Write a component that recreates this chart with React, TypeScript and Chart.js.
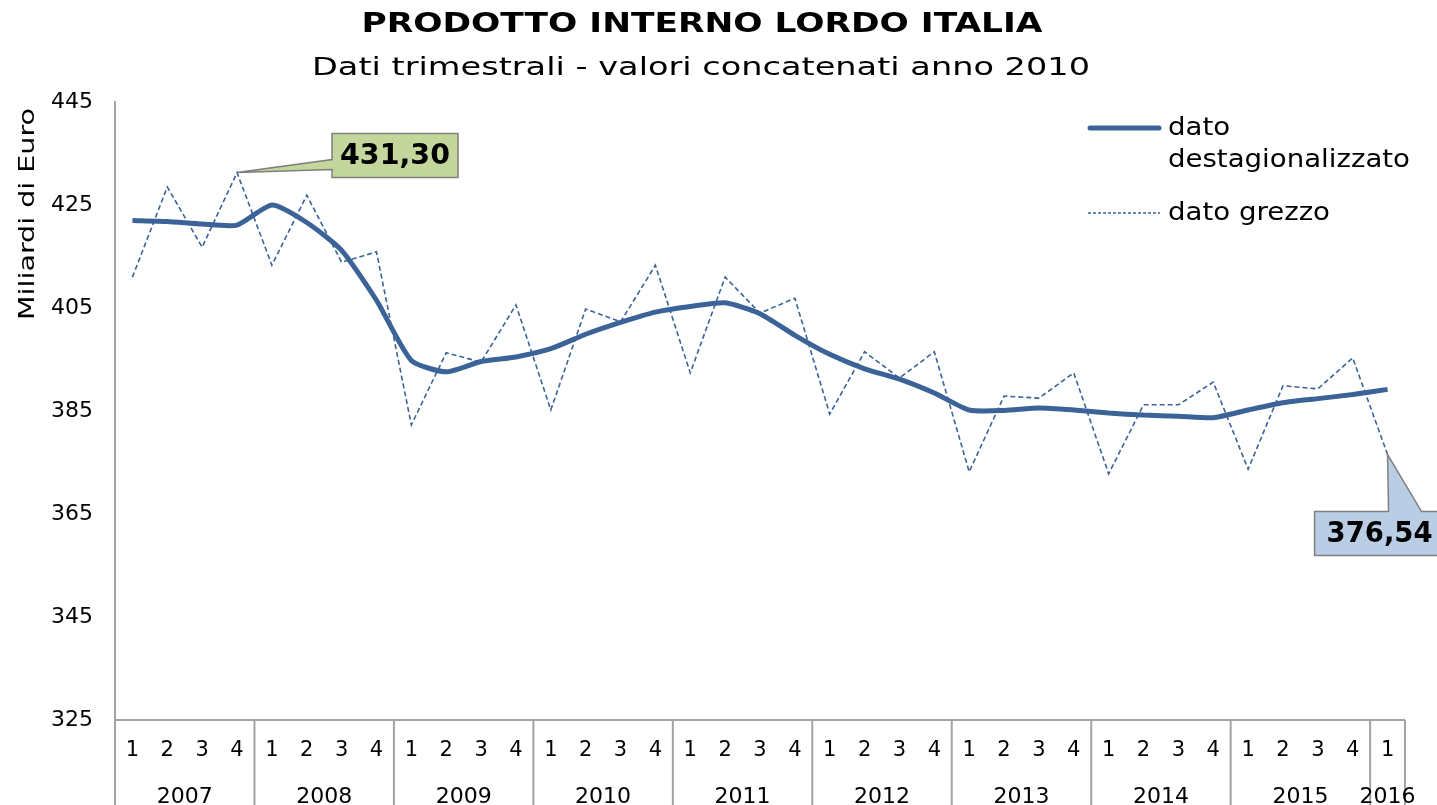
import React, { useEffect, useRef } from 'react';
import { Chart, registerables } from 'chart.js';

Chart.register(...registerables);

const FONT = "'DejaVu Sans', sans-serif";

const titleText = 'PRODOTTO INTERNO LORDO ITALIA';
const subtitleText = 'Dati trimestrali - valori concatenati anno 2010';
const yAxisTitle = 'Miliardi di Euro';
const legendSolid = ['dato', 'destagionalizzato'];
const legendDashed = 'dato grezzo';

const years = ['2007', '2008', '2009', '2010', '2011', '2012', '2013', '2014', '2015', '2016'];
const quartersPerYear = [4, 4, 4, 4, 4, 4, 4, 4, 4, 1];
const quarterLabels = [
  '1', '2', '3', '4', '1', '2', '3', '4', '1', '2', '3', '4', '1', '2', '3', '4',
  '1', '2', '3', '4', '1', '2', '3', '4', '1', '2', '3', '4', '1', '2', '3', '4',
  '1', '2', '3', '4', '1',
];

const destagionalizzato = [
  422.0, 421.8, 421.3, 421.1,
  425.0, 421.6, 416.2, 406.5,
  394.8, 392.6, 394.6, 395.5,
  397.1, 399.9, 402.2, 404.2,
  405.3, 406.0, 403.9, 399.7,
  396.0, 393.2, 391.2, 388.5,
  385.2, 385.1, 385.6, 385.2,
  384.6, 384.2, 384.0, 383.7,
  385.2, 386.6, 387.4, 388.2,
  389.2,
];

const grezzo = [
  411.0, 428.5, 416.8, 431.3,
  413.3, 426.9, 413.9, 415.9,
  382.3, 396.3, 394.5, 405.6,
  385.2, 404.8, 402.3, 413.3,
  392.4, 411.0, 404.0, 406.9,
  384.4, 396.5, 391.4, 396.5,
  373.2, 387.9, 387.5, 392.4,
  372.8, 386.2, 386.2, 390.6,
  373.7, 389.9, 389.3, 395.3,
  376.54,
];

const yMin = 325;
const yMax = 445;
const yStep = 20;

const LINE_COLOR = '#3b6397';
const AXIS_COLOR = '#a3a3a3';

const formatIt = (v: number) => v.toFixed(2).replace('.', ',');

function drawFit(
  ctx: CanvasRenderingContext2D,
  text: string,
  x: number,
  y: number,
  font: string,
  sx: number,
  align: CanvasTextAlign,
) {
  ctx.save();
  ctx.font = font;
  ctx.translate(x, y);
  ctx.scale(sx, 1);
  ctx.textAlign = align;
  ctx.textBaseline = 'middle';
  ctx.fillText(text, 0, 0);
  ctx.restore();
}

function stretchFor(ctx: CanvasRenderingContext2D, text: string, font: string, width: number) {
  ctx.save();
  ctx.font = font;
  const w = ctx.measureText(text).width;
  ctx.restore();
  return w > 0 ? width / w : 1;
}

const overlayPlugin = {
  id: 'overlay',
  afterDraw(chart: any) {
    const ctx = chart.ctx as CanvasRenderingContext2D;
    const xs = chart.scales.x;
    const ys = chart.scales.y;
    const area = chart.chartArea;
    const H = chart.height;
    ctx.save();
    ctx.fillStyle = '#000';

    // Titles
    const fTitle = `bold 26px ${FONT}`;
    drawFit(ctx, titleText, 702, 25, fTitle, stretchFor(ctx, titleText, fTitle, 681), 'center');
    const fSub = `25px ${FONT}`;
    drawFit(ctx, subtitleText, 701, 68, fSub, stretchFor(ctx, subtitleText, fSub, 778), 'center');

    // Y axis title
    ctx.save();
    ctx.translate(28, 214);
    ctx.rotate(-Math.PI / 2);
    const fY = `22px ${FONT}`;
    drawFit(ctx, yAxisTitle, 0, 0, fY, stretchFor(ctx, yAxisTitle, fY, 212), 'center');
    ctx.restore();

    // X axis box
    const half = (xs.getPixelForValue(1) - xs.getPixelForValue(0)) / 2;
    ctx.strokeStyle = AXIS_COLOR;
    ctx.lineWidth = 2;
    ctx.beginPath();
    ctx.moveTo(area.left, area.bottom);
    ctx.lineTo(area.right, area.bottom);
    ctx.stroke();

    ctx.font = `21px ${FONT}`;
    ctx.textAlign = 'center';
    ctx.textBaseline = 'middle';
    quarterLabels.forEach((q, i) => {
      ctx.fillText(q, xs.getPixelForValue(i), area.bottom + 31);
    });

    ctx.font = `22px ${FONT}`;
    let idx = 0;
    years.forEach((yr, k) => {
      const n = quartersPerYear[k];
      const start = xs.getPixelForValue(idx) - half;
      const end = xs.getPixelForValue(idx + n - 1) + half;
      ctx.beginPath();
      ctx.moveTo(start, area.bottom);
      ctx.lineTo(start, H);
      ctx.stroke();
      if (k === years.length - 1) {
        ctx.beginPath();
        ctx.moveTo(end, area.bottom);
        ctx.lineTo(end, H);
        ctx.stroke();
      }
      ctx.fillText(yr, (start + end) / 2, area.bottom + 77);
      idx += n;
    });

    // Legend
    const fLeg = `24px ${FONT}`;
    const sLeg = stretchFor(ctx, legendSolid[1], fLeg, 242);
    ctx.strokeStyle = LINE_COLOR;
    ctx.lineCap = 'round';
    ctx.lineWidth = 5;
    ctx.beginPath();
    ctx.moveTo(1090, 128);
    ctx.lineTo(1159, 128);
    ctx.stroke();
    drawFit(ctx, legendSolid[0], 1168, 129, fLeg, sLeg, 'left');
    drawFit(ctx, legendSolid[1], 1168, 161, fLeg, sLeg, 'left');
    ctx.lineCap = 'butt';
    ctx.lineWidth = 1.3;
    ctx.setLineDash([3, 2]);
    ctx.beginPath();
    ctx.moveTo(1088, 213);
    ctx.lineTo(1160, 213);
    ctx.stroke();
    ctx.setLineDash([]);
    drawFit(ctx, legendDashed, 1168, 214, fLeg, sLeg, 'left');

    // Callouts
    let iMax = 0;
    grezzo.forEach((v, i) => { if (v > grezzo[iMax]) iMax = i; });
    const iLast = grezzo.length - 1;
    const fBox = `bold 28px ${FONT}`;

    // Green callout (max)
    {
      const tx = xs.getPixelForValue(iMax);
      const ty = ys.getPixelForValue(grezzo[iMax]);
      const bx = tx + 95, by = ty - 39, bw = 126, bh = 44;
      ctx.beginPath();
      ctx.moveTo(bx, by);
      ctx.lineTo(bx + bw, by);
      ctx.lineTo(bx + bw, by + bh);
      ctx.lineTo(bx, by + bh);
      ctx.lineTo(bx, by + 36);
      ctx.lineTo(tx, ty);
      ctx.lineTo(bx, by + 26);
      ctx.closePath();
      ctx.fillStyle = '#c3d69b';
      ctx.fill();
      ctx.strokeStyle = '#7f7f7f';
      ctx.lineWidth = 1.5;
      ctx.stroke();
      ctx.fillStyle = '#000';
      const t = formatIt(grezzo[iMax]);
      drawFit(ctx, t, bx + bw / 2, by + bh / 2 + 1, fBox, stretchFor(ctx, t, fBox, 110), 'center');
    }

    // Blue callout (last)
    {
      const tx = xs.getPixelForValue(iLast);
      const ty = ys.getPixelForValue(grezzo[iLast]);
      const bx = tx - 73, by = ty + 57, bw = 132, bh = 44;
      ctx.beginPath();
      ctx.moveTo(bx, by);
      ctx.lineTo(tx + 1, by);
      ctx.lineTo(tx, ty);
      ctx.lineTo(tx + 34, by);
      ctx.lineTo(bx + bw, by);
      ctx.lineTo(bx + bw, by + bh);
      ctx.lineTo(bx, by + bh);
      ctx.closePath();
      ctx.fillStyle = '#b9cde5';
      ctx.fill();
      ctx.strokeStyle = '#7f7f7f';
      ctx.lineWidth = 1.5;
      ctx.stroke();
      ctx.fillStyle = '#000';
      const t = formatIt(grezzo[iLast]);
      drawFit(ctx, t, bx + 65, by + bh / 2 + 1, fBox, stretchFor(ctx, t, fBox, 106), 'center');
    }

    ctx.restore();
  },
};

export default function App() {
  const canvasRef = useRef<HTMLCanvasElement | null>(null);

  useEffect(() => {
    document.body.style.margin = '0';
    document.body.style.overflow = 'hidden';
    const canvas = canvasRef.current;
    if (!canvas) return;
    const chart = new Chart(canvas, {
      type: 'line',
      data: {
        labels: quarterLabels,
        datasets: [
          {
            label: 'dato destagionalizzato',
            data: destagionalizzato,
            borderColor: LINE_COLOR,
            borderWidth: 5,
            pointRadius: 0,
            tension: 0.2,
            fill: false,
          },
          {
            label: 'dato grezzo',
            data: grezzo,
            borderColor: LINE_COLOR,
            borderWidth: 1.6,
            borderDash: [5, 3],
            pointRadius: 0,
            tension: 0,
            fill: false,
          },
        ],
      },
      options: {
        animation: false,
        responsive: true,
        maintainAspectRatio: false,
        layout: { padding: { top: 102, right: 32, bottom: 85, left: 0 } },
        plugins: {
          legend: { display: false },
          title: { display: false },
          tooltip: { enabled: false },
        },
        scales: {
          x: { type: 'category', offset: true, display: false },
          y: {
            min: yMin,
            max: yMax,
            ticks: {
              stepSize: yStep,
              padding: 22,
              color: '#000',
              font: { size: 22, family: FONT },
            },
            grid: { display: false, drawTicks: false },
            border: { display: true, color: AXIS_COLOR, width: 2 },
            afterFit: (s: any) => { s.width = 115; },
          },
        },
      },
      plugins: [overlayPlugin],
    });
    return () => chart.destroy();
  }, []);

  return (
    <div style={{ width: 1437, height: 805, position: 'relative' }}>
      <canvas ref={canvasRef} />
    </div>
  );
}
